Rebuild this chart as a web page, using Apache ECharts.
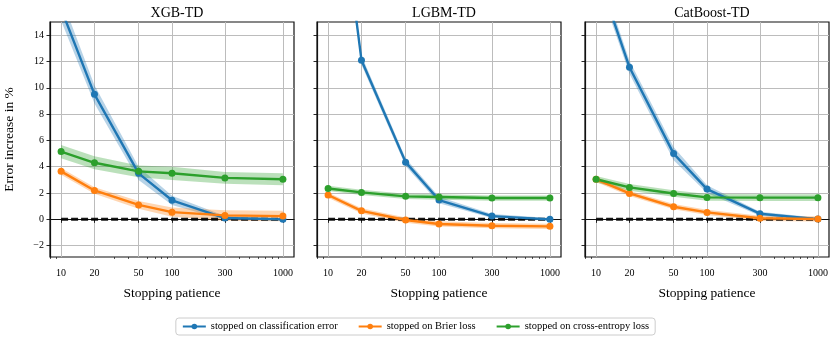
<!DOCTYPE html>
<html>
<head>
<meta charset="utf-8">
<script src="https://cdn.jsdelivr.net/npm/echarts@6/dist/echarts.min.js"></script>
<style>
html,body{margin:0;padding:0;background:#fff;}
#c{width:831px;height:339px;}
</style>
</head>
<body>
<div id="c"></div>
<script>
// ---- data ----
const patience = [10, 20, 50, 100, 300, 1000];
const majorTicks = [10, 20, 50, 100, 300, 1000];
const minorTicks = [8, 9, 30, 40, 60, 70, 80, 90, 200, 400, 500, 600, 700, 800, 900];
const yTicks = [-2, 0, 2, 4, 6, 8, 10, 12, 14];
const models = ['XGB-TD', 'LGBM-TD', 'CatBoost-TD'];
const seriesNames = ['stopped on classification error', 'stopped on Brier loss', 'stopped on cross-entropy loss'];
const zeroLine = [0, 0];

// mean error increase (%) per model
const xgbClass = [16.0, 9.5, 3.5, 1.45, 0.1, 0.0];
const xgbBrier = [3.65, 2.2, 1.1, 0.55, 0.3, 0.25];
const xgbCE    = [5.15, 4.3, 3.65, 3.5, 3.15, 3.05];
const lgbmClass = [32.0, 12.1, 4.35, 1.47, 0.25, 0.0];
const lgbmBrier = [1.85, 0.65, -0.05, -0.35, -0.48, -0.53];
const lgbmCE    = [2.35, 2.05, 1.75, 1.7, 1.62, 1.62];
const catClass = [19.0, 11.56, 5.0, 2.3, 0.43, 0.02];
const catBrier = [3.04, 1.97, 0.96, 0.53, 0.08, 0.03];
const catCE    = [3.05, 2.43, 1.97, 1.67, 1.65, 1.65];

// half-widths of the shaded bands
const xgbClassErr = [0.9, 0.7, 0.5, 0.35, 0.15, 0.1];
const xgbBrierErr = [0.25, 0.25, 0.3, 0.35, 0.4, 0.4];
const xgbCEErr    = [0.5, 0.5, 0.45, 0.5, 0.45, 0.45];
const lgbmClassErr = [0.5, 0.35, 0.3, 0.25, 0.15, 0.1];
const lgbmBrierErr = [0.2, 0.2, 0.2, 0.2, 0.2, 0.2];
const lgbmCEErr    = [0.2, 0.2, 0.2, 0.2, 0.2, 0.2];
const catClassErr = [0.6, 0.5, 0.5, 0.3, 0.15, 0.1];
const catBrierErr = [0.2, 0.2, 0.2, 0.2, 0.2, 0.2];
const catCEErr    = [0.25, 0.25, 0.25, 0.25, 0.25, 0.25];

const panelMeans = [[xgbClass, xgbBrier, xgbCE], [lgbmClass, lgbmBrier, lgbmCE], [catClass, catBrier, catCE]];
const panelErrs = [[xgbClassErr, xgbBrierErr, xgbCEErr], [lgbmClassErr, lgbmBrierErr, lgbmCEErr], [catClassErr, catBrierErr, catCEErr]];

const colors = ['#1f77b4', '#ff7f0e', '#2ca02c'];
const FONT = "'Liberation Serif', 'DejaVu Serif', serif";

const lg = v => Math.log10(v);
const grids = [{left: 50}, {left: 317}, {left: 585}].map(g => ({
  left: g.left, top: 22, width: 244, height: 235,
  show: true, borderColor: '#111', borderWidth: 1.2, backgroundColor: 'transparent'
}));

const xAxes = [], yAxes = [], series = [], titles = [];
for (let i = 0; i < 3; i++) {
  xAxes.push({
    type: 'value', gridIndex: i, min: 0.9, max: 3.1, position: 'bottom',
    name: 'Stopping patience', nameLocation: 'middle', nameGap: 29,
    nameTextStyle: {fontFamily: FONT, fontSize: 13.5, color: '#000'},
    axisLine: {show: true, lineStyle: {color: '#111', width: 1.2}},
    axisTick: {show: true, length: 3.5, lineStyle: {color: '#111', width: 0.9}, customValues: majorTicks.map(lg)},
    axisLabel: {show: true, fontFamily: FONT, fontSize: 10, color: '#000', margin: 11,
      customValues: majorTicks.map(lg), formatter: v => String(Math.round(Math.pow(10, v)))},
    splitLine: {show: true, lineStyle: {color: '#bcbcbc', width: 1}}
  });
  xAxes.push({
    type: 'value', gridIndex: i, min: 0.9, max: 3.1, position: 'bottom',
    axisLine: {show: false},
    axisTick: {show: true, length: 2, lineStyle: {color: '#111', width: 0.7}, customValues: minorTicks.map(lg)},
    axisLabel: {show: false},
    splitLine: {show: false}
  });
  yAxes.push({
    type: 'value', gridIndex: i, min: -2.86, max: 15,
    name: i === 0 ? 'Error increase in %' : '', nameLocation: 'middle', nameGap: 34,
    nameTextStyle: {fontFamily: FONT, fontSize: 13.5, color: '#000'},
    axisLine: {show: true, lineStyle: {color: '#111', width: 1.2}},
    axisTick: {show: true, length: 3.5, lineStyle: {color: '#111', width: 0.9}, customValues: yTicks},
    axisLabel: {show: i === 0, fontFamily: FONT, fontSize: 10, color: '#000', margin: 6,
      customValues: yTicks, formatter: v => (v < 0 ? '\u2212' + Math.abs(v) : String(v))},
    splitLine: {show: true, lineStyle: {color: '#bcbcbc', width: 1}}
  });
  titles.push({
    text: models[i], left: grids[i].left + grids[i].width / 2, top: 1, textAlign: 'center',
    textStyle: {fontFamily: FONT, fontSize: 14, fontWeight: 'normal', color: '#000'}
  });
  // zero reference line
  series.push({
    type: 'line', xAxisIndex: 2 * i, yAxisIndex: i, silent: true, symbol: 'none', z: 3,
    data: [[lg(patience[0]), zeroLine[0]], [lg(patience[patience.length - 1]), zeroLine[1]]],
    lineStyle: {color: '#000', width: 3, type: [7, 3], opacity: 0.9}
  });
  for (let s = 0; s < 3; s++) {
    const mean = panelMeans[i][s], err = panelErrs[i][s];
    const bandData = patience.map((p, k) => [lg(p), mean[k] - err[k], mean[k] + err[k]]);
    series.push({
      type: 'custom', xAxisIndex: 2 * i, yAxisIndex: i, silent: true, clip: true, z: 3,
      data: bandData,
      encode: {x: 0, y: [1, 2]},
      renderItem: (params, api) => {
        if (params.dataIndex !== 0) return;
        const up = [], lo = [];
        for (let k = 0; k < bandData.length; k++) {
          up.push(api.coord([bandData[k][0], bandData[k][2]]));
          lo.unshift(api.coord([bandData[k][0], bandData[k][1]]));
        }
        const cs = params.coordSys;
        return {
          type: 'polygon',
          shape: {points: up.concat(lo)},
          clipPath: {type: 'rect', shape: {x: cs.x, y: cs.y, width: cs.width, height: cs.height}},
          style: {fill: colors[s], opacity: 0.32}
        };
      }
    });
    series.push({
      name: seriesNames[s], type: 'line', xAxisIndex: 2 * i, yAxisIndex: i, z: 4,
      data: patience.map((p, k) => [lg(p), mean[k]]),
      symbol: 'circle', symbolSize: 7, showSymbol: true, clip: true,
      itemStyle: {color: colors[s]},
      lineStyle: {color: colors[s], width: 2.4},
      animation: false
    });
  }
}

const chart = echarts.init(document.getElementById('c'), null, {renderer: 'canvas'});
chart.setOption({
  animation: false,
  title: titles,
  grid: grids,
  xAxis: xAxes,
  yAxis: yAxes,
  legend: {
    data: seriesNames, left: 'center', top: 318, orient: 'horizontal',
    itemWidth: 23, itemHeight: 7, itemGap: 20,
    borderColor: '#cccccc', borderWidth: 1, borderRadius: 3, padding: [3, 6],
    textStyle: {fontFamily: FONT, fontSize: 10.5, color: '#000'}
  },
  series: series
});
</script>
</body>
</html>
